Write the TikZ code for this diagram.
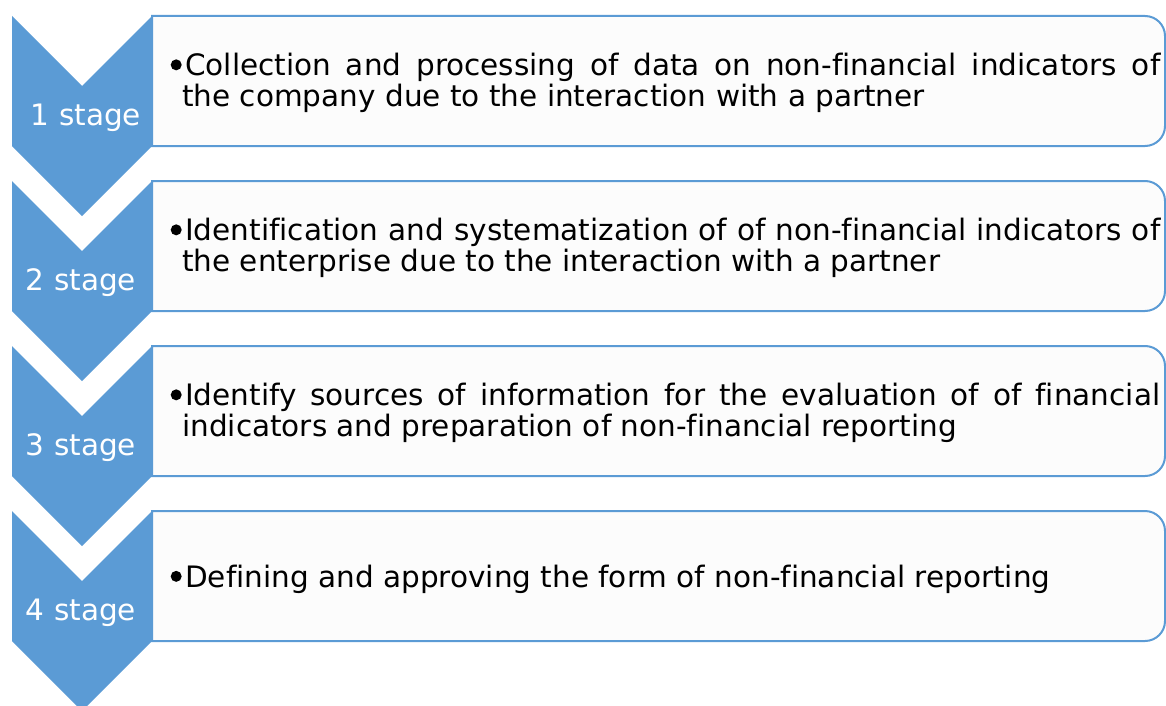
\documentclass[tikz,border=0pt]{standalone}
\usepackage{fontspec}
\setmainfont[Ligatures=NoCommon]{DejaVu Sans}
\definecolor{stageblue}{HTML}{5B9BD5}
\definecolor{boxfill}{HTML}{FCFCFC}
\tikzset{
  chevron/.style={fill=stageblue, draw=none},
  stagebox/.style={fill=boxfill, draw=stageblue, line width=2pt},
  stagelabel/.style={text=white, inner sep=0pt, anchor=base, font=\fontsize{29.5}{31}\selectfont},
  stagetext/.style={anchor=west, inner sep=0pt, text width=978pt, align=justify,
                    font=\fontsize{29.5}{31}\selectfont},
}
\newcommand{\stagechev}[1]{% #1 = top y of the chevron
  \fill[chevron] (12,#1) -- (82,#1+70) -- (152,#1) -- (152,#1+130)
    -- (82,#1+200) -- (12,#1+130) -- cycle;}
\newcommand{\stagerect}[1]{% #1 = top y of the box (y axis points down)
  \draw[stagebox] (152,#1) -- (1145,#1) arc[start angle=-90, end angle=0, radius=20]
    -- (1165,#1+110) arc[start angle=0, end angle=90, radius=20] -- (152,#1+130) -- cycle;}
% round bullet hanging in the left margin of a description
\newcommand{\bul}{\llap{\tikz[baseline=0pt]\fill (0pt,10.8pt) circle[radius=5.5pt];\hspace{0.5pt}}\hspace{3pt}}
\begin{document}
\begin{tikzpicture}[x=1pt, y=-1pt]
  \useasboundingbox (0,0) rectangle (1166,706);
  % boxes first, chevrons on top of their left edges
  \stagerect{16} \stagerect{181} \stagerect{346} \stagerect{511}
  \stagechev{16} \stagechev{181} \stagechev{346} \stagechev{511}
  % stage labels
  \node[stagelabel] (s1) at (86,125) {1 stage};
  \node[stagelabel] (s2) at (81,290) {2 stage};
  \node[stagelabel] (s3) at (81,455) {3 stage};
  \node[stagelabel] (s4) at (81,620) {4 stage};
  % stage descriptions
  \node[stagetext] (t1) at (182,83) {\bul Collection and processing of data on non-financial indicators of\linebreak the company due to the interaction with a partner};
  \node[stagetext] (t2) at (182,248) {\bul Identification and systematization of of non-financial indicators of\linebreak the enterprise due to the interaction with a partner};
  \node[stagetext] (t3) at (182,413) {\bul Identify sources of information for the evaluation of of financial\linebreak indicators and preparation of non-financial reporting};
  \node[stagetext] (t4) at (182,579) {\bul Defining and approving the form of non-financial reporting};
\end{tikzpicture}
\end{document}
